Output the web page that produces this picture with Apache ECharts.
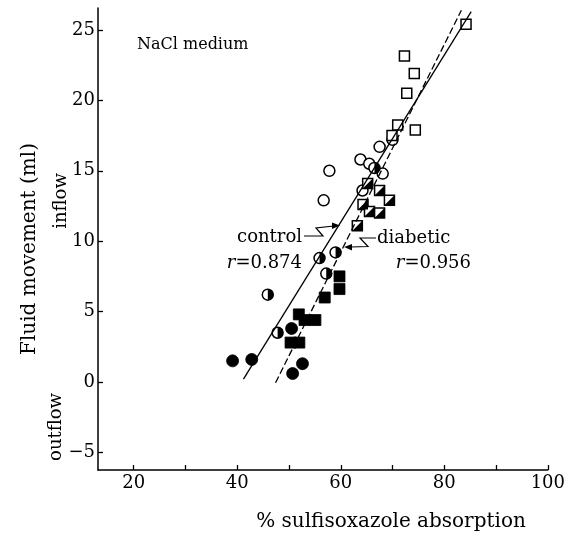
<!DOCTYPE html>
<html><head><meta charset="utf-8">
<script src="https://cdn.jsdelivr.net/npm/echarts@6/dist/echarts.min.js"></script>
<style>html,body{margin:0;padding:0;background:#fff}#c{width:568px;height:541px}</style>
</head><body><div id="c"></div>
<script>
const xTicks = [20, 30, 40, 50, 60, 70, 80, 90, 100];
const xLabels = [20, 40, 60, 80, 100];
const yTicks = [-5, 0, 5, 10, 15, 20, 25];

const openCircleX = [57.8, 56.7, 63.8, 65.5, 68.1, 67.5, 70.0, 64.2];
const openCircleY = [15.0, 12.9, 15.8, 15.5, 14.8, 16.7, 17.2, 13.6];
const halfCircleX = [45.9, 47.8, 55.9, 59.0, 57.2, 66.5];
const halfCircleY = [6.2, 3.5, 8.8, 9.2, 7.7, 15.2];
const filledCircleX = [39.1, 42.8, 50.5, 52.6, 50.7];
const filledCircleY = [1.5, 1.6, 3.8, 1.3, 0.6];
const openSquareX = [84.2, 72.3, 74.2, 72.75, 71.0, 69.9, 74.4];
const openSquareY = [25.4, 23.15, 21.9, 20.5, 18.25, 17.5, 17.9];
const halfSquareX = [65.2, 67.5, 69.4, 64.3, 65.55, 67.5, 63.2];
const halfSquareY = [14.1, 13.6, 12.9, 12.6, 12.1, 12.0, 11.1];
const filledSquareX = [51.9, 53.0, 55.1, 50.3, 52.0, 56.9, 59.75, 59.75];
const filledSquareY = [4.8, 4.4, 4.4, 2.8, 2.8, 6.0, 7.5, 6.6];
const controlLineX = [41.2, 85.2];
const controlLineY = [0.2, 26.3];
const diabeticLineX = [47.4, 83.3];
const diabeticLineY = [-0.05, 26.4];

const zip = (xs, ys) => xs.map((x, i) => [x, ys[i]]);
const SERIF = 'DejaVu Serif';
const S = 11;
const openStyle = { color: '#fff', borderColor: '#000', borderWidth: 1.5, opacity: 1 };
const solidStyle = { color: '#000', borderColor: '#000', borderWidth: 0.8, opacity: 1 };

function scatter(name, data, symbol, size, style, extra) {
  return Object.assign({
    name, type: 'scatter', data, symbol, symbolSize: size,
    itemStyle: style, silent: true, animation: false
  }, extra || {});
}

const chart = echarts.init(document.getElementById('c'), null, { renderer: 'canvas' });
chart.setOption({
  animation: false,
  backgroundColor: '#fff',
  grid: { left: 98, right: 19, top: 8, bottom: 71 },
  xAxis: {
    type: 'value', min: 13.1, max: 100,
    axisLine: { show: true, onZero: false, lineStyle: { color: '#000', width: 1.5 } },
    axisTick: { show: true, inside: true, length: 5, customValues: xTicks, lineStyle: { color: '#000', width: 1.3 } },
    axisLabel: { customValues: xLabels, margin: 4, color: '#000', fontFamily: SERIF, fontSize: 18 },
    splitLine: { show: false }
  },
  yAxis: {
    type: 'value', min: -6.25, max: 26.56,
    axisLine: { show: true, onZero: false, lineStyle: { color: '#000', width: 1.5 } },
    axisTick: { show: true, inside: true, length: 5, customValues: yTicks, lineStyle: { color: '#000', width: 1.3 } },
    axisLabel: { customValues: yTicks, margin: 3, color: '#000', fontFamily: SERIF, fontSize: 18,
      formatter: v => (v < 0 ? '\u2212' + Math.abs(v) : String(v)) },
    splitLine: { show: false }
  },
  series: [
    { name: 'control fit', type: 'line', data: zip(controlLineX, controlLineY), symbol: 'none',
      lineStyle: { color: '#000', width: 1.3 }, silent: true },
    { name: 'diabetic fit', type: 'line', data: zip(diabeticLineX, diabeticLineY), symbol: 'none',
      lineStyle: { color: '#000', width: 1.3, type: [7, 3] }, silent: true },
    scatter('control open', zip(openCircleX, openCircleY), 'circle', S, openStyle),
    scatter('control half', zip(halfCircleX, halfCircleY), 'circle', S, openStyle),
    scatter('control half fill', zip(halfCircleX, halfCircleY), 'path://M0,0 A10,10 0 0 1 0,20 Z', [S / 2, S],
      { color: '#000', opacity: 1 }, { symbolOffset: [S / 4, 0] }),
    scatter('control filled', zip(filledCircleX, filledCircleY), 'circle', S + 1, solidStyle),
    scatter('diabetic open', zip(openSquareX, openSquareY), 'rect', S - 1, openStyle),
    scatter('diabetic half', zip(halfSquareX, halfSquareY), 'rect', S - 1, openStyle),
    scatter('diabetic half fill', zip(halfSquareX, halfSquareY), 'path://M10,0 L10,10 L0,10 Z', S - 1, { color: '#000', opacity: 1 }),
    scatter('diabetic filled', zip(filledSquareX, filledSquareY), 'rect', S, solidStyle)
  ],
  graphic: [
    { type: 'text', x: 137, y: 45, style: { text: 'NaCl medium', font: '16px "' + SERIF + '"', fill: '#000', verticalAlign: 'middle' } },
    { type: 'text', x: 302, y: 237, style: { text: 'control', font: '18px "' + SERIF + '"', fill: '#000', align: 'right', verticalAlign: 'middle' } },
    { type: 'text', x: 302, y: 263, style: { text: '{i|r}=0.874', font: '18px "' + SERIF + '"', fill: '#000', align: 'right', verticalAlign: 'middle',
      rich: { i: { fontStyle: 'italic', fontFamily: SERIF, fontSize: 18 } } } },
    { type: 'text', x: 377, y: 238, style: { text: 'diabetic', font: '18px "' + SERIF + '"', fill: '#000', verticalAlign: 'middle' } },
    { type: 'text', x: 471, y: 263, style: { text: '{i|r}=0.956', font: '18px "' + SERIF + '"', fill: '#000', align: 'right', verticalAlign: 'middle',
      rich: { i: { fontStyle: 'italic', fontFamily: SERIF, fontSize: 18 } } } },
    { type: 'polyline', shape: { points: [[304, 236], [323, 236], [316, 228], [334, 226]] }, style: { stroke: '#000', lineWidth: 1.2, fill: null } },
    { type: 'polygon', shape: { points: [[340, 225.5], [332, 222.5], [332, 229]] }, style: { fill: '#000' } },
    { type: 'polyline', shape: { points: [[376, 238], [360, 238], [368, 246.5], [350, 247]] }, style: { stroke: '#000', lineWidth: 1.2, fill: null } },
    { type: 'polygon', shape: { points: [[344, 247], [352, 244], [352, 250.5]] }, style: { fill: '#000' } },
    { type: 'text', x: 391, y: 522, style: { text: '% sulfisoxazole absorption', font: '20px "' + SERIF + '"', fill: '#000', align: 'center', verticalAlign: 'middle' } },
    { type: 'text', x: 30, y: 249, rotation: Math.PI / 2, style: { text: 'Fluid movement (ml)', font: '20px "' + SERIF + '"', fill: '#000', align: 'center', verticalAlign: 'middle' } },
    { type: 'text', x: 61, y: 201, rotation: Math.PI / 2, style: { text: 'inflow', font: '18px "' + SERIF + '"', fill: '#000', align: 'center', verticalAlign: 'middle' } },
    { type: 'text', x: 56, y: 427, rotation: Math.PI / 2, style: { text: 'outflow', font: '18px "' + SERIF + '"', fill: '#000', align: 'center', verticalAlign: 'middle' } }
  ]
});
</script>
</body></html>
